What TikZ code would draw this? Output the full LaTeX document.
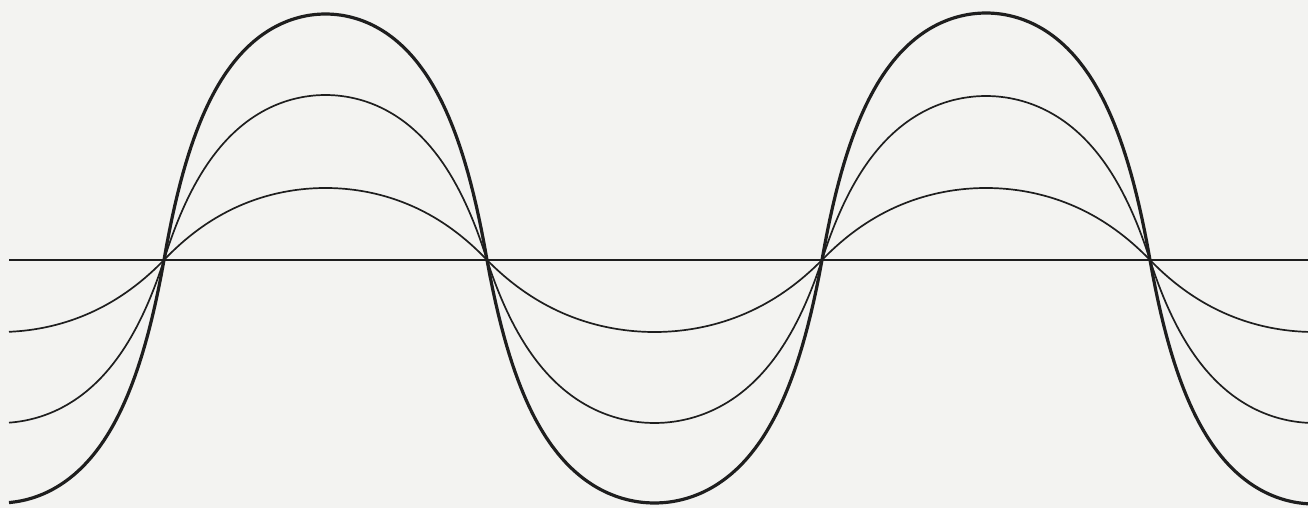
\documentclass[tikz,border=0pt]{standalone}
\definecolor{paper}{RGB}{243,243,241}
\definecolor{ink}{RGB}{30,30,30}
% saturating wave: (1+a) s / (s+a), s = sin(phase)
\pgfmathdeclarefunction{wv}{2}{%
  \pgfmathparse{(1+#2)*(#1)/((#1)+#2)}}
\begin{document}
\begin{tikzpicture}[x=0.5pt,y=-0.5pt,
  thinwave/.style={line width=0.85pt,color=ink,line join=round},
  bigwave/.style={line width=1.6pt,color=ink,line join=round},
  axisline/.style={line width=0.6pt,color=ink}]
\fill[paper] (0,0) rectangle (1308,508);
\useasboundingbox (0,0) rectangle (1308,508);
\coordinate (L) at (9,260);
\coordinate (R) at (1308,260);
\draw[axisline] (L) -- (R);
% large wave
\draw[bigwave]
  plot[domain=9:164,samples=60] (\x,{260+243*wv(sin((\x+165)/329*180),0.7)})
  -- plot[domain=164:487,samples=120] (\x,{260-246*wv(sin((\x-164)/323*180),0.7)})
  -- plot[domain=487:822,samples=120] (\x,{260+243*wv(sin((\x-487)/335*180),0.7)})
  -- plot[domain=822:1150,samples=120] (\x,{260-247*wv(sin((\x-822)/328*180),0.7)})
  -- plot[domain=1150:1308,samples=60] (\x,{260+244*wv(sin((\x-1150)/329*180),0.7)});
% medium wave
\draw[thinwave]
  plot[domain=9:164,samples=60] (\x,{260+163*wv(sin((\x+165)/329*180),1)})
  -- plot[domain=164:487,samples=120] (\x,{260-165*wv(sin((\x-164)/323*180),1)})
  -- plot[domain=487:822,samples=120] (\x,{260+163*wv(sin((\x-487)/335*180),1)})
  -- plot[domain=822:1150,samples=120] (\x,{260-164*wv(sin((\x-822)/328*180),1)})
  -- plot[domain=1150:1308,samples=60] (\x,{260+163*wv(sin((\x-1150)/329*180),1)});
% small wave
\draw[thinwave]
  plot[domain=9:164,samples=60] (\x,{260+72*wv(sin((\x+165)/329*180),2)})
  -- plot[domain=164:487,samples=120] (\x,{260-72*wv(sin((\x-164)/323*180),2)})
  -- plot[domain=487:822,samples=120] (\x,{260+72*wv(sin((\x-487)/335*180),2)})
  -- plot[domain=822:1150,samples=120] (\x,{260-72*wv(sin((\x-822)/328*180),2)})
  -- plot[domain=1150:1308,samples=60] (\x,{260+72*wv(sin((\x-1150)/329*180),2)});
\end{tikzpicture}
\end{document}
